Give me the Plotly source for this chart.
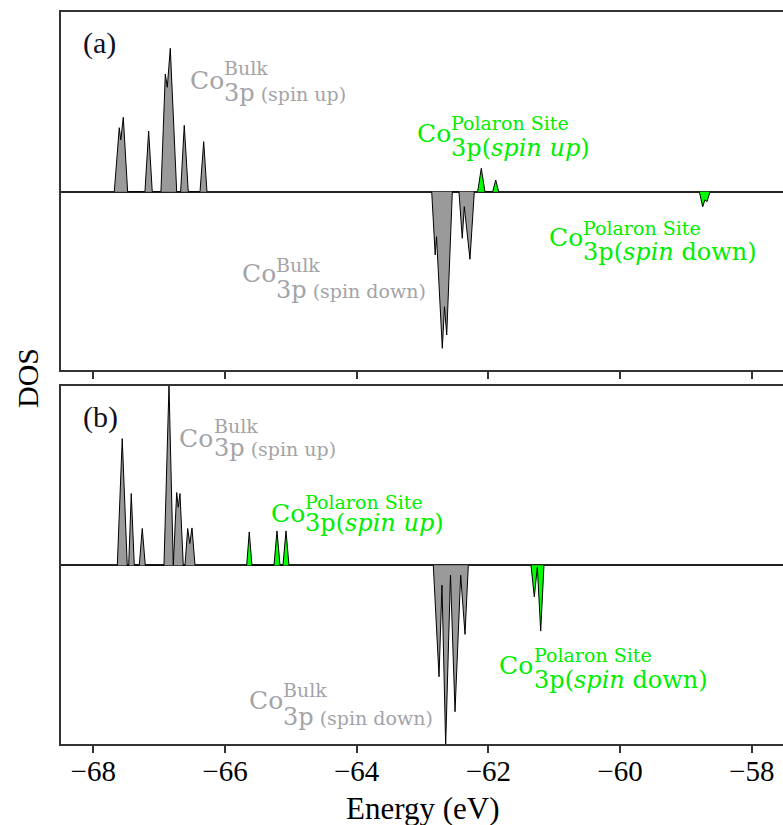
import plotly.graph_objects as go

# ---------------- data (energy in eV, DOS in arbitrary units) ----------------
a_bulk_up_E = [-67.681, -67.605, -67.582, -67.544, -67.478, -67.215, -67.159, -67.104,
               -66.972, -66.906, -66.876, -66.830, -66.733, -66.673, -66.618, -66.557,
               -66.379, -66.323, -66.273]
a_bulk_up_D = [0, 0.64, 0.517, 0.744, 0, 0, 0.607, 0,
               0, 1.177, 1.044, 1.434, 0, 0, 0.664, 0,
               0, 0.50, 0]
a_bulk_dn_E = [-62.86, -62.807, -62.787, -62.699, -62.666, -62.632, -62.547,
               -62.446, -62.396, -62.365, -62.279, -62.213]
a_bulk_dn_D = [0, -0.633, -0.45, -1.566, -1.15, -1.433, 0,
               0, -0.466, -0.15, -0.676, 0]
a_pol_up_E = [-62.162, -62.107, -62.051, -61.934, -61.888, -61.843]
a_pol_up_D = [0, 0.234, 0, 0, 0.117, 0]
a_pol_dn_E = [-58.796, -58.744, -58.71, -58.68, -58.633]
a_pol_dn_D = [0, -0.15, -0.08, -0.10, 0]

b_bulk_up_E = [-67.635, -67.560, -67.484, -67.462, -67.423, -67.377, -67.301, -67.256, -67.210,
               -66.926, -66.850, -66.785, -66.733, -66.709, -66.683, -66.633,
               -66.607, -66.566, -66.534, -66.501, -66.455]
b_bulk_up_D = [0, 1.267, 0, 0, 0.717, 0, 0, 0.367, 0,
               0, 1.80, 0, 0.727, 0.58, 0.717, 0,
               0, 0.367, 0.217, 0.373, 0]
b_bulk_dn_E = [-62.836, -62.749, -62.704, -62.648, -62.575, -62.506, -62.420, -62.354, -62.304]
b_bulk_dn_D = [0, -1.117, -0.2, -1.80, -0.1, -1.467, -0.1, -0.693, 0]
b_pol_up_E = [-65.670, -65.631, -65.590, -65.255, -65.210, -65.164, -65.119, -65.073, -65.028]
b_pol_up_D = [0, 0.333, 0, 0, 0.343, 0, 0, 0.343, 0]
b_pol_dn_E = [-61.352, -61.302, -61.256, -61.205, -61.155]
b_pol_dn_D = [0, -0.317, -0.02, -0.66, 0]

x_ticks = [-68, -66, -64, -62, -60, -58]
x_tick_labels = ["\u221268", "\u221266", "\u221264", "\u221262", "\u221260", "\u221258"]

# ---------------- styling ----------------
GRAY_FILL = "#9a9a9a"
GREEN_FILL = "#00ff00"
GRAY_TXT = "#a3a3a8"
GREEN_TXT = "#00ee00"
AX_COL = "#333333"
SERIF = "Liberation Serif"
LBL = "DejaVu Serif"

X_RANGE = [-68.49, -57.525]

fig = go.Figure()

def add_series(E, D, fill, xa, ya):
    fig.add_trace(go.Scatter(x=E, y=D, mode="lines", fill="tozeroy",
                             fillcolor=fill, line=dict(color="black", width=1),
                             xaxis=xa, yaxis=ya, showlegend=False, hoverinfo="skip"))

add_series(a_bulk_up_E, a_bulk_up_D, GRAY_FILL, "x", "y")
add_series(a_bulk_dn_E, a_bulk_dn_D, GRAY_FILL, "x", "y")
add_series(a_pol_up_E, a_pol_up_D, GREEN_FILL, "x", "y")
add_series(a_pol_dn_E, a_pol_dn_D, GREEN_FILL, "x", "y")
add_series(b_bulk_up_E, b_bulk_up_D, GRAY_FILL, "x2", "y2")
add_series(b_bulk_dn_E, b_bulk_dn_D, GRAY_FILL, "x2", "y2")
add_series(b_pol_up_E, b_pol_up_D, GREEN_FILL, "x2", "y2")
add_series(b_pol_dn_E, b_pol_dn_D, GREEN_FILL, "x2", "y2")

xcommon = dict(range=X_RANGE, showgrid=False, zeroline=False, showline=True, mirror=True,
               linecolor=AX_COL, linewidth=1.5, ticks="outside", ticklen=7, tickwidth=1.5,
               tickcolor=AX_COL, tickvals=x_ticks, ticktext=x_tick_labels)
ycommon = dict(showgrid=False, zeroline=True, zerolinecolor="#222222", zerolinewidth=1.5,
               showline=True, linecolor=AX_COL, linewidth=1.5, ticks="", showticklabels=False)

fig.update_layout(
    width=783, height=825,
    margin=dict(l=61, r=0, t=12, b=81),
    paper_bgcolor="white", plot_bgcolor="white",
    font=dict(family=SERIF, size=29, color="black"),
    xaxis=dict(**xcommon, domain=[0, 1], anchor="y", showticklabels=False),
    yaxis=dict(**ycommon, domain=[0.5109, 1], range=[-1.783, 1.797], anchor="x"),
    xaxis2=dict(**xcommon, domain=[0, 1], anchor="y2", showticklabels=True,
                ticklabelstandoff=-7,
                tickfont=dict(family=SERIF, size=29, color="black")),
    yaxis2=dict(**ycommon, domain=[0, 0.489], range=[-1.79, 1.793], anchor="x2"),
    showlegend=False,
)

ann = []

def txt(x, y, s, size, color, xr, yr, family=LBL, anchor="left"):
    ann.append(dict(x=x, y=y, xref=xr, yref=yr, text=s, showarrow=False,
                    xanchor=anchor, yanchor="middle",
                    font=dict(family=family, size=size, color=color)))

def label(xc, yc, xs, ysup, ysub, sup, sub, color, xr, yr, sub_small=None):
    txt(xc, yc, "Co", 25, color, xr, yr)
    txt(xs, ysup, sup, 19, color, xr, yr)
    if sub_small is None:
        txt(xs, ysub, sub, 24, color, xr, yr)
    else:
        txt(xs, ysub, sub + "<span style='font-size:19px'>" + sub_small + "</span>", 24, color, xr, yr)

# panel (a)
txt(-67.898, 1.487, "(a)", 30, "#111122", "x", "y", family=SERIF, anchor="center")
label(-66.562, 1.117, -66.045, 1.237, 0.987, "Bulk", "3p", GRAY_TXT, "x", "y", sub_small=" (spin up)")
label(-65.772, -0.813, -65.255, -0.733, -0.983, "Bulk", "3p", GRAY_TXT, "x", "y", sub_small=" (spin down)")
label(-63.114, 0.587, -62.598, 0.687, 0.437, "Polaron Site", "3p(<i>spin up</i>)", GREEN_TXT, "x", "y")
label(-61.109, -0.453, -60.593, -0.363, -0.603, "Polaron Site", "3p(<i>spin</i> down)", GREEN_TXT, "x", "y")

# panel (b)
txt(-67.883, 1.48, "(b)", 30, "#111122", "x2", "y2", family=SERIF, anchor="center")
label(-66.729, 1.27, -66.197, 1.39, 1.17, "Bulk", "3p", GRAY_TXT, "x2", "y2", sub_small=" (spin up)")
label(-65.331, 0.52, -64.815, 0.63, 0.42, "Polaron Site", "3p(<i>spin up</i>)", GREEN_TXT, "x2", "y2")
label(-65.666, -1.35, -65.149, -1.25, -1.52, "Bulk", "3p", GRAY_TXT, "x2", "y2", sub_small=" (spin down)")
label(-61.868, -1.00, -61.337, -0.90, -1.15, "Polaron Site", "3p(<i>spin</i> down)", GREEN_TXT, "x2", "y2")

fig.update_layout(annotations=ann)

# axis titles placed in paper coordinates
W, H = 783, 825
pl, pr, pt, pb = 61, 0, 12, 81
pw, ph = W - pl - pr, H - pt - pb
fig.add_annotation(x=(27 - pl) / pw, y=(H - pb - 378) / ph, xref="paper", yref="paper",
                   text="DOS", showarrow=False, textangle=-90, xanchor="center", yanchor="middle",
                   font=dict(family=SERIF, size=30, color="black"))
fig.add_annotation(x=(423 - pl) / pw, y=(H - pb - 808) / ph, xref="paper", yref="paper",
                   text="Energy (eV)", showarrow=False, xanchor="center", yanchor="middle",
                   font=dict(family=SERIF, size=31, color="black"))

fig.write_html("out.html", config={"displayModeBar": False},
               post_script="document.body.style.margin='0px';document.body.style.overflow='hidden';")
